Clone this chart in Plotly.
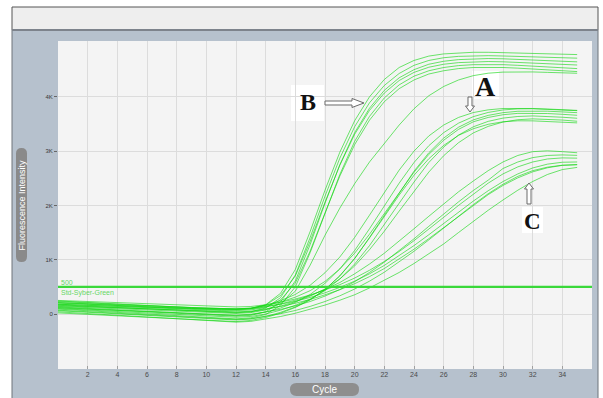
import plotly.graph_objects as go

# ---------------- data ----------------
CYCLES = [0, 1, 2, 3, 4, 5, 6, 7, 8, 9, 10, 11, 12, 13, 14, 15, 16, 17,
          18, 19, 20, 21, 22, 23, 24, 25, 26, 27, 28, 29, 30, 31, 32, 33, 34, 35]

# group B (highest plateau, earliest rise)
B1 = [210,195,180,168,155,143,132,120,110,100,92,86,84,100,170,380,820,1520,2280,2980,3560,4000,4320,4540,4670,4750,4790,4810,4820,4820,4815,4808,4800,4792,4785,4778]
B2 = [170,157,144,131,118,106,94,82,70,58,46,34,22,40,110,300,720,1410,2170,2870,3450,3890,4210,4430,4580,4670,4720,4745,4755,4758,4752,4745,4736,4728,4720,4712]
B3 = [120,106,93,80,67,54,41,28,15,2,-12,-26,-40,-25,40,220,610,1280,2040,2750,3340,3790,4120,4350,4500,4600,4655,4685,4700,4705,4700,4690,4680,4668,4656,4644]
B4 = [240,225,210,196,182,168,155,142,130,118,108,100,96,108,165,340,700,1340,2060,2740,3310,3750,4070,4300,4450,4545,4600,4630,4645,4650,4645,4635,4622,4610,4598,4586]
B5 = [90,75,60,45,30,15,0,-15,-30,-45,-60,-75,-90,-70,-10,160,500,1130,1860,2570,3180,3640,3980,4220,4380,4480,4540,4575,4592,4598,4592,4580,4565,4550,4535,4520]
B6 = [180,170,158,146,134,122,110,98,88,78,70,64,62,74,120,260,570,1160,1860,2540,3120,3570,3910,4150,4310,4420,4480,4520,4540,4545,4540,4528,4512,4496,4480,4465]
B7 = [140,129,118,107,96,85,74,63,52,41,30,20,10,25,75,190,420,900,1450,1950,2400,2800,3150,3480,3780,4020,4190,4310,4390,4435,4455,4462,4458,4450,4442,4434]

# group A (middle plateau)
A1 = [200,188,176,165,154,143,132,122,112,102,94,88,86,105,160,245,360,530,760,1050,1410,1820,2240,2650,3000,3280,3480,3620,3710,3760,3785,3790,3785,3775,3762,3750]
A2 = [130,117,103,90,77,63,50,37,23,10,-3,-17,-30,-12,35,110,215,360,565,830,1170,1570,1990,2410,2790,3100,3340,3515,3635,3712,3758,3778,3780,3772,3760,3745]
A3 = [60,46,31,17,2,-12,-27,-41,-56,-70,-84,-97,-110,-92,-45,30,130,265,450,700,1020,1410,1820,2240,2630,2970,3240,3440,3575,3658,3708,3734,3740,3735,3722,3708]
A4 = [230,216,202,188,175,162,150,138,127,116,106,98,94,106,150,220,310,430,600,830,1120,1470,1850,2240,2610,2940,3200,3400,3540,3620,3670,3695,3700,3692,3678,3660]
A5 = [100,87,73,60,47,33,20,7,-7,-20,-33,-47,-60,-45,0,70,160,275,430,645,920,1260,1640,2040,2430,2790,3075,3295,3448,3548,3608,3638,3648,3640,3624,3605]
A6 = [160,149,138,128,117,106,95,84,73,62,52,41,30,42,82,145,228,330,462,645,885,1185,1525,1895,2265,2615,2915,3155,3335,3455,3535,3578,3594,3590,3572,3550]
A7 = [20,7,-7,-20,-33,-47,-60,-73,-87,-100,-113,-127,-140,-118,-65,15,120,260,450,705,1025,1400,1800,2190,2555,2860,3105,3290,3412,3494,3540,3558,3557,3548,3535,3520]

# group C (lowest plateau, slowest rise)
C1 = [180,170,160,150,140,130,120,110,100,92,84,78,76,90,130,185,255,340,450,580,740,920,1120,1340,1570,1800,2030,2250,2450,2640,2800,2920,2990,3005,2990,2970]
C2 = [110,99,88,78,67,56,45,34,23,12,2,-9,-20,-5,35,85,150,230,330,450,595,765,955,1165,1385,1615,1845,2065,2275,2465,2680,2800,2880,2920,2930,2922]
C3 = [250,240,230,220,210,200,190,180,170,160,150,140,130,138,170,218,276,350,438,540,662,805,968,1150,1350,1560,1780,2000,2210,2410,2580,2710,2800,2855,2875,2870]
C4 = [70,56,42,27,13,-1,-15,-29,-43,-58,-72,-86,-100,-85,-45,5,65,140,230,335,460,605,770,955,1155,1365,1585,1805,2015,2215,2390,2535,2640,2705,2740,2748]
C5 = [150,141,132,123,114,105,95,86,77,68,59,49,40,50,88,138,198,268,353,448,558,688,838,1008,1193,1388,1593,1803,2008,2198,2368,2508,2618,2693,2738,2753]
C6 = [40,24,8,-8,-23,-39,-55,-71,-87,-103,-118,-134,-150,-136,-96,-46,14,84,164,254,354,480,615,765,930,1105,1290,1500,1710,1910,2100,2280,2440,2570,2660,2700]
C7 = [210,200,190,180,170,160,150,140,130,120,110,100,90,100,135,180,235,305,390,490,605,740,895,1070,1260,1460,1670,1880,2080,2270,2440,2580,2690,2760,2795,2800]

THRESHOLD = 500
THRESHOLD_LABEL = "500"
DYE_LABEL = "Std-Syber-Green"

X_TICKS = [2, 4, 6, 8, 10, 12, 14, 16, 18, 20, 22, 24, 26, 28, 30, 32, 34]
Y_TICKS = [0, 1000, 2000, 3000, 4000]
Y_TICK_TEXT = ["0", "1K", "2K", "3K", "4K"]

CURVES = [B1, B2, B3, B4, B5, B6, B7, A1, A2, A3, A4, A5, A6, A7,
          C1, C2, C3, C4, C5, C6, C7]

# ---------------- layout geometry (pixels) ----------------
W, H = 603, 398
L, R, T, Bm = 58, 592, 41, 369      # plot area edges in px


def px(x):
    return (x - L) / (R - L)


def py(y):
    return (Bm - y) / (Bm - T)


def rect(x0, y0, x1, y1, fill, line=None, lw=0):
    return dict(type="rect", xref="paper", yref="paper", layer="below",
                x0=px(x0), x1=px(x1), y0=py(y1), y1=py(y0),
                fillcolor=fill, line=dict(color=line or fill, width=lw))


def poly(points, fill, line, lw=1, layer="above"):
    d = "M " + " L ".join(f"{px(a):.5f},{py(b):.5f}" for a, b in points) + " Z"
    return dict(type="path", xref="paper", yref="paper", layer=layer, path=d,
                fillcolor=fill, line=dict(color=line, width=lw))


def pill(x0, y0, x1, y1, r, fill):
    P = lambda a, b: f"{px(a):.5f},{py(b):.5f}"
    d = (f"M {P(x0 + r, y0)} L {P(x1 - r, y0)} Q {P(x1, y0)} {P(x1, y0 + r)} "
         f"L {P(x1, y1 - r)} Q {P(x1, y1)} {P(x1 - r, y1)} L {P(x0 + r, y1)} "
         f"Q {P(x0, y1)} {P(x0, y1 - r)} L {P(x0, y0 + r)} Q {P(x0, y0)} {P(x0 + r, y0)} Z")
    return dict(type="path", xref="paper", yref="paper", layer="below", path=d,
                fillcolor=fill, line=dict(color=fill, width=0))


def label(text, x, y, size, color, family="Liberation Sans", xanchor="center", angle=0):
    return dict(text=text, x=px(x), y=py(y), xref="paper", yref="paper",
                xanchor=xanchor, yanchor="middle", showarrow=False, textangle=angle,
                font=dict(family=family, size=size, color=color))


fig = go.Figure()

for ys in CURVES:
    fig.add_trace(go.Scatter(x=CYCLES, y=ys, mode="lines",
                             line=dict(color="rgba(20,215,20,0.62)", width=1),
                             hoverinfo="skip", showlegend=False))

fig.add_trace(go.Scatter(x=[0, 36], y=[THRESHOLD, THRESHOLD], mode="lines",
                         line=dict(color="#3ad83a", width=2.2),
                         hoverinfo="skip", showlegend=False))

shapes = [
    # outer panel
    rect(12, 30, 598, 420, "#b6c1cd", "#6f747a", 1),
    # title bar
    rect(12, 7, 598, 30, "#eeeeee", "#555555", 1),
    rect(12, 29, 598, 31, "#7d838c"),
    # plot area
    rect(L, T, R, Bm, "#f4f4f4"),
    # axis title pills
    pill(16, 148, 27, 262, 5.5, "#8a8a8a"),
    pill(290, 383, 359, 396, 6.5, "#8e8e8e"),
    # white boxes behind letters
    rect(291, 85, 324, 121, "#ffffff"),
    rect(472, 71, 499, 99, "#ffffff"),
    rect(522, 207, 543, 233, "#ffffff"),
]
# hollow arrows
shapes.append(poly([(325, 101), (352, 101), (352, 98.5), (364, 103), (352, 107.5),
                    (352, 105), (325, 105)], "#ffffff", "#6a6a6a", 1))
shapes.append(poly([(468, 97), (472, 97), (472, 106), (474.5, 106), (470, 112),
                    (465.5, 106), (468, 106)], "#ffffff", "#6a6a6a", 1))
shapes.append(poly([(529, 183), (533.5, 189), (531, 189), (531, 204), (527, 204),
                    (527, 189), (524.5, 189)], "#ffffff", "#6a6a6a", 1))

annotations = [
    label("<b>B</b>", 308, 102, 24, "#111111", "Liberation Serif"),
    label("<b>A</b>", 485, 86, 28, "#111111", "Liberation Serif"),
    label("<b>C</b>", 532, 221, 23, "#111111", "Liberation Serif"),
    label(THRESHOLD_LABEL, 59, 282, 7, "#66d866", xanchor="left"),
    label(DYE_LABEL, 59, 292.5, 7, "#66d866", xanchor="left"),
    label("Fluorescence Intensity", 21.5, 205, 9, "#ffffff", angle=-90),
    label("Cycle", 324.5, 389.5, 10, "#ffffff"),
]

fig.update_layout(
    width=W, height=H,
    margin=dict(l=L, r=W - R, t=T, b=H - Bm, pad=0),
    paper_bgcolor="#ffffff", plot_bgcolor="#f4f4f4",
    shapes=shapes, annotations=annotations, showlegend=False,
    xaxis=dict(range=[0, 36], tickvals=X_TICKS, showgrid=True, gridcolor="#dcdcdc",
               gridwidth=1, zeroline=False, showline=False, ticks="inside",
               ticklen=3, tickcolor="#a0a0a0",
               tickfont=dict(family="Liberation Sans", size=7, color="#4a4a4a")),
    yaxis=dict(range=[-1013, 5028], tickvals=Y_TICKS, ticktext=Y_TICK_TEXT,
               showgrid=True, gridcolor="#dcdcdc", gridwidth=1, zeroline=False,
               showline=False, ticks="outside", ticklen=3, tickcolor="#666666",
               tickfont=dict(family="Liberation Sans", size=6, color="#3a3a3a")),
)

fig.write_html("out.html", config={"displayModeBar": False},
               post_script="document.body.style.margin='0';")
